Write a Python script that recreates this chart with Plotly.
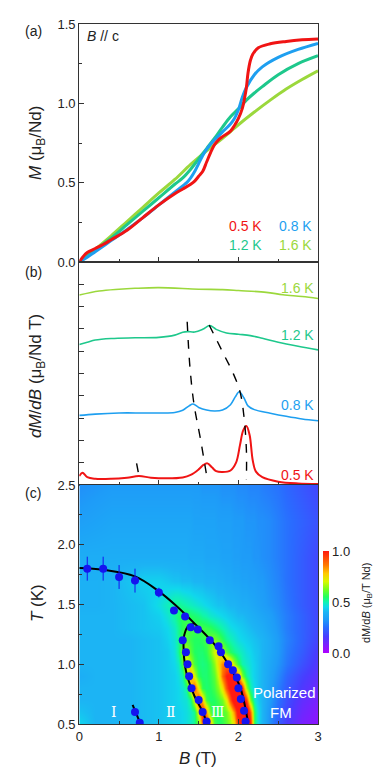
import plotly.graph_objects as go

# ---------- (a) magnetisation curves, B // c ----------
B_m05 = [0, 0.05, 0.1, 0.2, 0.3, 0.4, 0.6, 0.8, 1.0, 1.2, 1.3, 1.4, 1.45, 1.5, 1.55, 1.6, 1.65, 1.7, 1.75,
         1.8, 1.9, 1.95, 2.0, 2.05, 2.08, 2.1, 2.12, 2.15, 2.18, 2.25, 2.4, 2.6, 2.8, 3.0]
M_05 = [0, 0.035, 0.06, 0.085, 0.11, 0.14, 0.20, 0.28, 0.36, 0.43, 0.46, 0.49, 0.51, 0.54, 0.57, 0.63, 0.69,
        0.74, 0.77, 0.79, 0.825, 0.86, 0.905, 0.97, 1.04, 1.10, 1.19, 1.27, 1.31, 1.35, 1.375, 1.39, 1.40, 1.405]
B_m08 = [0, 0.1, 0.2, 0.4, 0.6, 0.8, 1.0, 1.2, 1.3, 1.35, 1.4, 1.45, 1.5, 1.55, 1.6, 1.7, 1.8, 1.9, 1.95,
         2.0, 2.05, 2.1, 2.2, 2.3, 2.5, 2.75, 3.0]
M_08 = [0, 0.03, 0.065, 0.135, 0.205, 0.28, 0.36, 0.44, 0.48, 0.50, 0.53, 0.57, 0.62, 0.67, 0.71, 0.77, 0.82,
        0.87, 0.905, 0.96, 1.04, 1.10, 1.18, 1.23, 1.29, 1.34, 1.378]
B_m12 = [0, 0.2, 0.4, 0.6, 0.8, 1.0, 1.2, 1.3, 1.4, 1.5, 1.6, 1.7, 1.8, 1.9, 2.0, 2.1, 2.2, 2.3, 2.5, 2.75, 3.0]
M_12 = [0, 0.075, 0.15, 0.235, 0.32, 0.405, 0.49, 0.53, 0.585, 0.65, 0.715, 0.78, 0.85, 0.915, 0.965, 1.02,
        1.065, 1.105, 1.18, 1.25, 1.30]
B_m16 = [0, 0.2, 0.4, 0.6, 0.8, 1.0, 1.2, 1.4, 1.6, 1.8, 2.0, 2.2, 2.4, 2.6, 2.8, 3.0]
M_16 = [0, 0.08, 0.165, 0.255, 0.345, 0.435, 0.52, 0.615, 0.70, 0.78, 0.865, 0.945, 1.02, 1.09, 1.15, 1.205]

# ---------- (b) dM/dB curves (vertically offset, arb. units) ----------
B_d05 = [0, 0.04, 0.1, 0.2, 0.4, 0.6, 0.75, 0.9, 1.1, 1.3, 1.4, 1.5, 1.56, 1.61, 1.67, 1.72, 1.8, 1.9,
         1.97, 2.02, 2.06, 2.1, 2.14, 2.18, 2.22, 2.3, 2.5, 2.75, 3.0]
D_05 = [0.40, 0.55, 0.35, 0.28, 0.28, 0.33, 0.40, 0.33, 0.30, 0.34, 0.45, 0.70, 0.90, 0.97, 0.78, 0.62, 0.58,
        0.65, 1.00, 1.80, 2.45, 2.65, 2.25, 1.10, 0.60, 0.35, 0.15, 0.07, 0.05]
B_d08 = [0, 0.2, 0.5, 0.8, 1.0, 1.2, 1.3, 1.38, 1.43, 1.5, 1.6, 1.7, 1.8, 1.9, 1.96, 2.01, 2.07, 2.12, 2.2,
         2.4, 2.6, 2.8, 3.0]
D_08 = [3.12, 3.18, 3.23, 3.23, 3.23, 3.25, 3.35, 3.55, 3.63, 3.48, 3.36, 3.32, 3.36, 3.60, 3.95, 4.18, 3.90,
        3.55, 3.38, 3.22, 3.08, 2.96, 2.88]
B_d12 = [0, 0.1, 0.2, 0.4, 0.7, 1.0, 1.2, 1.3, 1.36, 1.45, 1.55, 1.64, 1.72, 1.85, 2.0, 2.15, 2.3, 2.5, 2.75, 3.0]
D_12 = [6.30, 6.40, 6.50, 6.57, 6.60, 6.62, 6.72, 6.85, 6.88, 6.86, 6.98, 7.15, 6.98, 6.82, 6.76, 6.70, 6.58,
        6.40, 6.22, 6.06]
B_d16 = [0, 0.25, 0.5, 0.7, 1.0, 1.5, 1.8, 2.0, 2.35, 2.56, 2.8, 3.0]
D_16 = [8.52, 8.70, 8.78, 8.82, 8.85, 8.78, 8.76, 8.72, 8.64, 8.53, 8.45, 8.36]

# peak-tracking guide lines
g1_B, g1_y = [0.72, 0.755], [0.97, 0.30]
g2_B = [1.356, 1.39, 1.44, 1.525, 1.61]
g2_y = [7.32, 5.31, 3.66, 2.02, 0.22]
g3_B = [1.633, 1.81, 1.935, 2.02, 2.07, 2.10, 2.10]
g3_y = [7.17, 5.9, 5.0, 4.18, 3.06, 1.57, 0.22]

# ---------- (c) dM/dB colour map ----------
hm_B = [0, 0.2, 0.4, 0.6, 0.8, 1.0, 1.1, 1.2, 1.25, 1.3, 1.35, 1.4, 1.45, 1.5, 1.55, 1.6, 1.65, 1.7, 1.75,
        1.8, 1.85, 1.9, 1.95, 2.0, 2.05, 2.1, 2.15, 2.2, 2.25, 2.3, 2.4, 2.5, 2.6, 2.8, 3.0]
hm_T = [0.5, 0.6, 0.7, 0.8, 0.9, 1.0, 1.1, 1.2, 1.3, 1.4, 1.5, 1.7, 1.9, 2.2, 2.5]
hm_z = [
    [0.45, 0.40, 0.40, 0.40, 0.41, 0.42, 0.43, 0.44, 0.44, 0.45, 0.46, 0.48, 0.52, 0.60, 0.90, 1.00, 0.80, 0.58,
     0.54, 0.56, 0.60, 0.65, 0.75, 1.00, 1.20, 1.20, 1.00, 0.55, 0.45, 0.40, 0.30, 0.22, 0.16, 0.08, 0.05],
    [0.42, 0.40, 0.40, 0.40, 0.41, 0.42, 0.43, 0.44, 0.44, 0.45, 0.46, 0.48, 0.52, 0.72, 1.00, 0.82, 0.60, 0.55,
     0.55, 0.58, 0.62, 0.70, 0.85, 1.10, 1.20, 1.15, 0.90, 0.55, 0.45, 0.40, 0.31, 0.24, 0.18, 0.10, 0.06],
    [0.40, 0.40, 0.40, 0.40, 0.41, 0.42, 0.43, 0.44, 0.45, 0.46, 0.47, 0.52, 0.70, 0.95, 0.78, 0.58, 0.54, 0.55,
     0.58, 0.62, 0.72, 0.92, 1.10, 1.15, 1.10, 0.95, 0.62, 0.48, 0.43, 0.40, 0.33, 0.26, 0.20, 0.12, 0.08],
    [0.40, 0.40, 0.40, 0.40, 0.41, 0.42, 0.43, 0.44, 0.45, 0.47, 0.52, 0.72, 0.92, 0.72, 0.56, 0.54, 0.55, 0.58,
     0.64, 0.74, 0.92, 1.05, 1.10, 1.10, 0.95, 0.65, 0.50, 0.45, 0.42, 0.40, 0.34, 0.28, 0.22, 0.15, 0.10],
    [0.38, 0.40, 0.40, 0.40, 0.41, 0.42, 0.43, 0.44, 0.46, 0.50, 0.65, 0.85, 0.70, 0.56, 0.54, 0.54, 0.56, 0.60,
     0.70, 0.88, 1.00, 1.05, 1.00, 0.85, 0.62, 0.52, 0.47, 0.44, 0.42, 0.40, 0.35, 0.30, 0.24, 0.17, 0.12],
    [0.40, 0.40, 0.40, 0.40, 0.41, 0.42, 0.43, 0.45, 0.48, 0.58, 0.72, 0.68, 0.58, 0.54, 0.53, 0.54, 0.57, 0.64,
     0.75, 0.85, 0.88, 0.80, 0.66, 0.56, 0.50, 0.48, 0.46, 0.44, 0.42, 0.40, 0.36, 0.32, 0.27, 0.20, 0.14],
    [0.40, 0.40, 0.40, 0.40, 0.41, 0.42, 0.43, 0.46, 0.52, 0.64, 0.68, 0.60, 0.55, 0.54, 0.54, 0.56, 0.62, 0.70,
     0.74, 0.68, 0.60, 0.55, 0.52, 0.50, 0.48, 0.46, 0.45, 0.43, 0.42, 0.40, 0.37, 0.33, 0.28, 0.22, 0.15],
    [0.40, 0.40, 0.40, 0.40, 0.41, 0.42, 0.44, 0.47, 0.52, 0.58, 0.60, 0.57, 0.55, 0.55, 0.56, 0.58, 0.62, 0.63,
     0.60, 0.56, 0.52, 0.50, 0.48, 0.46, 0.45, 0.44, 0.43, 0.42, 0.41, 0.40, 0.37, 0.33, 0.29, 0.23, 0.17],
    [0.40, 0.40, 0.40, 0.41, 0.42, 0.43, 0.45, 0.48, 0.52, 0.56, 0.58, 0.58, 0.58, 0.58, 0.58, 0.57, 0.56, 0.54,
     0.52, 0.50, 0.48, 0.46, 0.45, 0.44, 0.43, 0.42, 0.41, 0.40, 0.39, 0.38, 0.35, 0.32, 0.28, 0.23, 0.18],
    [0.40, 0.40, 0.40, 0.41, 0.42, 0.44, 0.47, 0.51, 0.54, 0.56, 0.56, 0.55, 0.54, 0.53, 0.51, 0.50, 0.48, 0.47,
     0.46, 0.45, 0.44, 0.43, 0.42, 0.41, 0.41, 0.40, 0.39, 0.38, 0.37, 0.36, 0.34, 0.31, 0.28, 0.23, 0.18],
    [0.39, 0.39, 0.40, 0.41, 0.42, 0.46, 0.49, 0.52, 0.52, 0.51, 0.50, 0.49, 0.48, 0.47, 0.46, 0.45, 0.44, 0.43,
     0.42, 0.42, 0.41, 0.40, 0.40, 0.39, 0.38, 0.38, 0.37, 0.36, 0.35, 0.34, 0.32, 0.30, 0.27, 0.22, 0.18],
    [0.39, 0.39, 0.40, 0.42, 0.44, 0.44, 0.43, 0.42, 0.42, 0.41, 0.41, 0.41, 0.40, 0.40, 0.40, 0.39, 0.39, 0.39,
     0.38, 0.38, 0.37, 0.37, 0.36, 0.36, 0.35, 0.35, 0.34, 0.34, 0.33, 0.33, 0.31, 0.29, 0.26, 0.22, 0.18],
    [0.38, 0.38, 0.38, 0.38, 0.38, 0.38, 0.38, 0.38, 0.38, 0.38, 0.38, 0.37, 0.37, 0.37, 0.37, 0.36, 0.36, 0.36,
     0.36, 0.35, 0.35, 0.35, 0.34, 0.34, 0.33, 0.33, 0.33, 0.32, 0.32, 0.31, 0.30, 0.28, 0.26, 0.22, 0.18],
    [0.34, 0.35, 0.36, 0.36, 0.36, 0.36, 0.36, 0.36, 0.36, 0.36, 0.36, 0.36, 0.35, 0.35, 0.35, 0.35, 0.35, 0.35,
     0.34, 0.34, 0.34, 0.34, 0.33, 0.33, 0.33, 0.32, 0.32, 0.32, 0.31, 0.31, 0.30, 0.28, 0.26, 0.23, 0.20],
    [0.31, 0.32, 0.33, 0.33, 0.33, 0.33, 0.33, 0.33, 0.33, 0.33, 0.33, 0.33, 0.33, 0.33, 0.32, 0.32, 0.32, 0.32,
     0.32, 0.31, 0.31, 0.31, 0.31, 0.30, 0.30, 0.30, 0.29, 0.29, 0.29, 0.28, 0.27, 0.26, 0.24, 0.21, 0.18],
]

# phase boundary points
pB_top = [0.10, 0.30, 0.50, 0.70, 1.00]
pT_top = [1.80, 1.80, 1.73, 1.70, 1.60]
eT_top = [0.10, 0.10, 0.10, 0.10, 0.04]
pB_out = [1.19, 1.33, 1.40, 1.49, 1.64, 1.75, 1.78, 1.87, 1.93, 1.98, 2.00, 2.03, 2.07, 2.09]
pT_out = [1.45, 1.40, 1.31, 1.29, 1.20, 1.15, 1.10, 1.00, 0.95, 0.89, 0.80, 0.71, 0.61, 0.52]
pB_in = [1.30, 1.34, 1.36, 1.38, 1.41, 1.50, 1.55, 1.60]
pT_in = [1.20, 1.10, 1.00, 0.90, 0.80, 0.70, 0.60, 0.52]
pB_low = [0.70, 0.76]
pT_low = [0.60, 0.51]

# guide curves through the boundaries
dome_B = [0, 0.3, 0.7, 1.0, 1.2, 1.45, 1.72, 1.89, 2.02, 2.10, 2.12]
dome_T = [1.805, 1.79, 1.735, 1.61, 1.50, 1.34, 1.15, 0.98, 0.81, 0.59, 0.50]
inner_B = [1.45, 1.37, 1.32, 1.31, 1.33, 1.37, 1.45, 1.56, 1.60]
inner_T = [1.34, 1.32, 1.246, 1.148, 0.98, 0.87, 0.73, 0.59, 0.50]
low_B, low_T = [0.67, 0.77], [0.66, 0.50]

RED, BLUE, TEAL, LIME = '#f01414', '#1e9ff0', '#1ec88c', '#9bd83c'
PT = '#1414f0'
FONT = 'Liberation Sans, Arial, sans-serif'

jetlike = [[0.0, '#b000ff'], [0.08, '#7a20ff'], [0.16, '#4a3cff'], [0.25, '#2a6cff'], [0.33, '#1e9cf8'],
           [0.40, '#1cb4f4'], [0.45, '#10d8ec'], [0.50, '#10f4b0'], [0.55, '#20ff60'], [0.62, '#70ff20'],
           [0.70, '#d8f800'], [0.78, '#ffc800'], [0.86, '#ff7a00'], [1.0, '#ff1a10']]

# the page body has an 8 px margin, so the figure is 8 px smaller and positions are shifted
W, H, OFF = 374, 772, 8


def px(x):
    return (x - OFF) / W


def py(y):
    return 1 - (y - OFF) / H


fig = go.Figure()

# (a)
for bx, my, col in [(B_m16, M_16, LIME), (B_m12, M_12, TEAL), (B_m08, M_08, BLUE), (B_m05, M_05, RED)]:
    fig.add_trace(go.Scatter(x=bx, y=my, mode='lines', line=dict(color=col, width=3, shape='spline'),
                             xaxis='x', yaxis='y', showlegend=False))

# (b)
for bx, dy, col, w in [(B_d16, D_16, LIME, 1.6), (B_d12, D_12, TEAL, 1.6),
                       (B_d08, D_08, BLUE, 1.6), (B_d05, D_05, RED, 2)]:
    fig.add_trace(go.Scatter(x=bx, y=dy, mode='lines', line=dict(color=col, width=w, shape='spline'),
                             xaxis='x2', yaxis='y2', showlegend=False))
for gx, gy in [(g1_B, g1_y), (g2_B, g2_y), (g3_B, g3_y)]:
    fig.add_trace(go.Scatter(x=gx, y=gy, mode='lines',
                             line=dict(color='black', width=1.4, dash='dash', shape='spline'),
                             xaxis='x2', yaxis='y2', showlegend=False))

# (c)
fig.add_trace(go.Heatmap(
    x=hm_B, y=hm_T, z=hm_z, zmin=0, zmax=1, zsmooth='best', colorscale=jetlike,
    xaxis='x3', yaxis='y3',
    colorbar=dict(x=px(323), xanchor='left', xpad=0, y=py(602), yanchor='middle',
                  len=102 / H, lenmode='fraction', thickness=6, outlinewidth=0, ypad=0,
                  tickvals=[0, 0.5, 1], ticktext=['0.0', '0.5', '1.0'], ticks='',
                  tickfont=dict(family=FONT, size=13, color='#222')),
))
for cx, cy in [(dome_B, dome_T), (inner_B, inner_T), (low_B, low_T)]:
    fig.add_trace(go.Scatter(x=cx, y=cy, mode='lines', line=dict(color='black', width=2, shape='spline'),
                             xaxis='x3', yaxis='y3', showlegend=False))
fig.add_trace(go.Scatter(x=pB_top, y=pT_top, mode='markers', marker=dict(color=PT, size=8),
                         error_y=dict(array=eT_top, color=PT, thickness=1, width=0),
                         xaxis='x3', yaxis='y3', showlegend=False))
for bx, ty in [(pB_out, pT_out), (pB_in, pT_in), (pB_low, pT_low)]:
    fig.add_trace(go.Scatter(x=bx, y=ty, mode='markers', marker=dict(color=PT, size=8),
                             error_x=dict(value=0.05, color=PT, thickness=1, width=0),
                             error_y=dict(value=0.03, color=PT, thickness=1, width=0),
                             xaxis='x3', yaxis='y3', showlegend=False))

XD = [px(79.3), px(318)]
axis_common = dict(showline=True, linecolor='#333', linewidth=1.2, mirror=True, ticks='inside',
                   ticklen=5, tickcolor='#333', showgrid=False, zeroline=False, automargin=False,
                   tickfont=dict(family=FONT, size=13, color='#222'))

fig.update_layout(
    width=W, height=H, margin=dict(l=0, r=0, t=0, b=0, autoexpand=False),
    paper_bgcolor='white', plot_bgcolor='white', showlegend=False,
    font=dict(family=FONT, color='#222'),
    xaxis=dict(domain=XD, range=[0, 3], dtick=1, showticklabels=False, anchor='y',
               minor=dict(ticks='inside', dtick=0.5, ticklen=3, tickcolor='#333'), **axis_common),
    yaxis=dict(domain=[py(262), py(24)], range=[0, 1.5], dtick=0.5, tickformat='.1f',
               anchor='x', minor=dict(ticks='inside', dtick=0.25, ticklen=3, tickcolor='#333'),
               **axis_common),
    xaxis2=dict(domain=XD, range=[0, 3], dtick=1, showticklabels=False, anchor='y2',
                minor=dict(ticks='inside', dtick=0.5, ticklen=3, tickcolor='#333'), **axis_common),
    yaxis2=dict(domain=[py(485), py(262)], range=[0, 10], dtick=1, showticklabels=False,
                anchor='x2', **axis_common),
    xaxis3=dict(domain=XD, range=[0, 3], dtick=1, anchor='y3',
                minor=dict(ticks='inside', dtick=0.5, ticklen=3, tickcolor='#333'), **axis_common),
    yaxis3=dict(domain=[py(724), py(485)], range=[0.5, 2.5], dtick=0.5, tickformat='.1f',
                anchor='x3', minor=dict(ticks='inside', dtick=0.25, ticklen=3, tickcolor='#333'),
                **axis_common),
)

ann = []


def ptext(x, y, text, size, color='#222', angle=0, xanchor='center'):
    ann.append(dict(xref='paper', yref='paper', x=px(x), y=py(y), text=text, showarrow=False,
                    textangle=angle, xanchor=xanchor, yanchor='middle',
                    font=dict(family=FONT, size=size, color=color)))


def dtext(xr, yr, x, y, text, size, color, xanchor='center', family=FONT):
    ann.append(dict(xref=xr, yref=yr, x=x, y=y, text=text, showarrow=False, xanchor=xanchor,
                    yanchor='middle', font=dict(family=family, size=size, color=color)))


# panel labels and axis titles
ptext(33, 31, '(a)', 14)
ptext(33, 272, '(b)', 14)
ptext(33, 493, '(c)', 14)
ptext(85, 36, '<i>B</i> // c', 14, xanchor='left')
ptext(37, 143, '<i>M</i> (μ<sub>B</sub>/Nd)', 17, angle=-90)
ptext(37, 376, '<i>dM</i>/<i>dB</i> (μ<sub>B</sub>/Nd T)', 17, angle=-90)
ptext(37, 603, '<i>T</i> (K)', 17, angle=-90)
ptext(198, 758, '<i>B</i> (T)', 17)
ptext(367, 603, 'dM/d<i>B</i> (μ<sub>B</sub>/T Nd)', 11, angle=-90)

# (a) temperature labels
dtext('x', 'y', 2.095, 0.227, '0.5 K', 14, RED)
dtext('x', 'y', 2.716, 0.227, '0.8 K', 14, BLUE)
dtext('x', 'y', 2.095, 0.107, '1.2 K', 14, TEAL)
dtext('x', 'y', 2.716, 0.107, '1.6 K', 14, LIME)

# (b) temperature labels
dtext('x2', 'y2', 2.98, 8.85, '1.6 K', 14, LIME, xanchor='right')
dtext('x2', 'y2', 2.98, 6.73, '1.2 K', 14, TEAL, xanchor='right')
dtext('x2', 'y2', 2.98, 3.59, '0.8 K', 14, BLUE, xanchor='right')
dtext('x2', 'y2', 2.98, 0.45, '0.5 K', 14, RED, xanchor='right')

# (c) phase labels
dtext('x3', 'y3', 0.43, 0.60, 'Ⅰ', 14, 'white', family='DejaVu Serif')
dtext('x3', 'y3', 1.15, 0.60, 'Ⅱ', 14, 'white', family='DejaVu Serif')
dtext('x3', 'y3', 1.74, 0.60, 'Ⅲ', 14, 'white', family='DejaVu Serif')
dtext('x3', 'y3', 2.58, 0.76, 'Polarized', 15, 'white')
dtext('x3', 'y3', 2.54, 0.60, 'FM', 15, 'white')

fig.update_layout(annotations=ann)
fig.write_html("out.html")
